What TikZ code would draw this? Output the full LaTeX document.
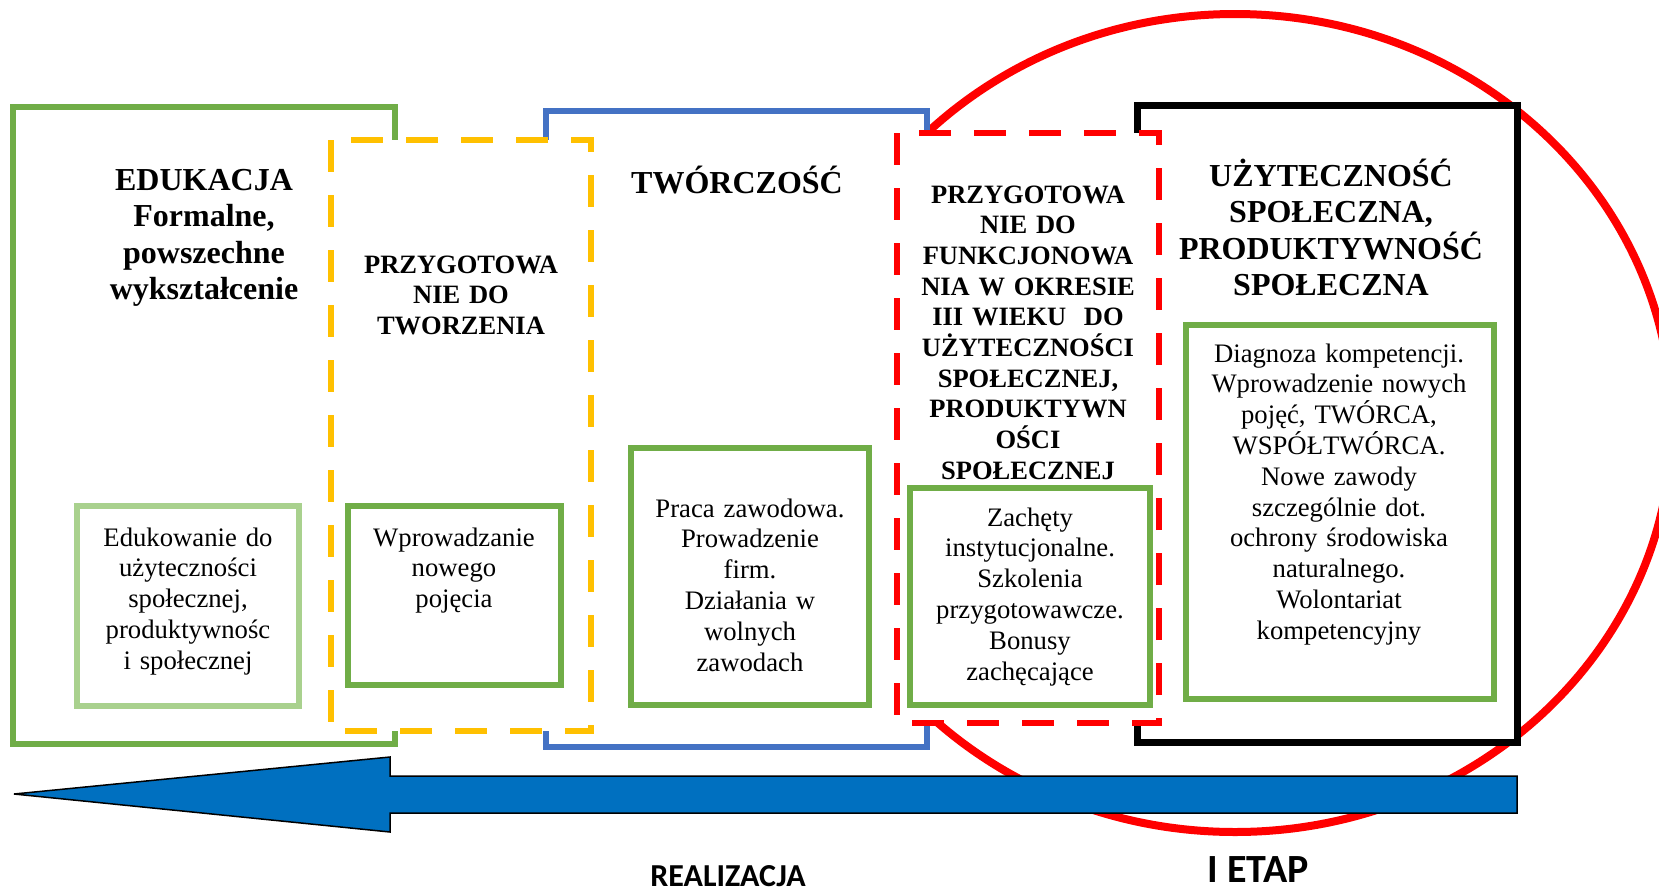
\documentclass[tikz,border=0pt]{standalone}
\usepackage{fontspec}
\setmainfont{Liberation Serif}
\newfontfamily\labelfont{Carlito}
\usetikzlibrary{calc}

\definecolor{frgreen}{HTML}{70AD47}
\definecolor{frlight}{HTML}{A9D18E}
\definecolor{fryellow}{HTML}{FFC000}
\definecolor{frblue}{HTML}{4472C4}
\definecolor{frred}{HTML}{FF0000}
\definecolor{arrowblue}{HTML}{0070C0}

\tikzset{
  framebox/.style={line width=6.5pt, fill=white},
  dashbox/.style={framebox, dash pattern=on 32pt off 23pt},
  innerbox/.style={draw=frgreen, line width=6pt, fill=white},
  headtext/.style={anchor=base, align=center, text width=320pt, inner sep=0pt,
    font=\bfseries\fontsize{32}{36.6}\selectfont},
  subhead/.style={headtext, text width=260pt, font=\bfseries\fontsize{26.5}{30.7}\selectfont},
  bodytext/.style={anchor=base, align=center, text width=320pt, inner sep=0pt,
    font=\fontsize{26.7}{30.8}\selectfont},
  steplabel/.style={anchor=base, inner sep=0pt, font=\labelfont\bfseries}
}

\begin{document}
\begin{tikzpicture}[x=1pt, y=-1pt]
\useasboundingbox (0,0) rectangle (1659,892);
% Stage ellipse behind everything
\coordinate (stage) at (1235,423);
\draw[frred, line width=8pt] (stage) ellipse [x radius=437pt, y radius=409pt];
% Outer frames, back to front
\draw[framebox, draw=frgreen] (13,107) rectangle (395,744);
\draw[framebox, draw=frblue] (546,111) rectangle (927,747);
\draw[framebox, draw=black, line width=7pt] (1137,105) rectangle (1517,742);
\draw[dashbox, draw=fryellow, line width=6pt] (331,140) rectangle (591,731);
\draw[dashbox, draw=frred] (897,133) rectangle (1159,723);
% Inner boxes
\draw[innerbox, draw=frlight, line width=6.5pt] (77,506) rectangle (299,706);
\draw[innerbox] (348,506) rectangle (561,685);
\draw[innerbox] (631,448) rectangle (869,705);
\draw[innerbox] (910,488) rectangle (1150,705);
\draw[innerbox] (1186,325) rectangle (1494,699);
% Headings
\node[headtext] (edukacja) at (204,190) {EDUKACJA\\ Formalne,\\ powszechne\\ wykształcenie};
\node[subhead] (tworzenie) at (461,273) {PRZYGOTOWA\\ NIE DO\\ TWORZENIA};
\node[headtext] (tworczosc) at (737,193) {TWÓRCZOŚĆ};
\node[subhead] (funkcja) at (1028,203) {PRZYGOTOWA\\ NIE DO\\ FUNKCJONOWA\\ NIA W OKRESIE\\ III WIEKU\ \ DO\\ UŻYTECZNOŚCI\\ SPOŁECZNEJ,\\ PRODUKTYWN\\ OŚCI\\ SPOŁECZNEJ};
\node[headtext] (uzytecznosc) at (1331,186) {UŻYTECZNOŚĆ\\ SPOŁECZNA,\\ PRODUKTYWNOŚĆ\\ SPOŁECZNA};
% Box texts
\node[bodytext] (edukowanie) at (188,546) {Edukowanie do\\ użyteczności\\ społecznej,\\ produktywnośc\\ i społecznej};
\node[bodytext] (pojecie) at (454,546) {Wprowadzanie\\ nowego\\ pojęcia};
\node[bodytext] (praca) at (750,517) {Praca zawodowa.\\ Prowadzenie\\ firm.\\ Działania w\\ wolnych\\ zawodach};
\node[bodytext] (zachety) at (1030,526) {Zachęty\\ instytucjonalne.\\ Szkolenia\\ przygotowawcze.\\ Bonusy\\ zachęcające};
\node[bodytext] (diagnoza) at (1339,362) {Diagnoza kompetencji.\\ Wprowadzenie nowych\\ pojęć, TWÓRCA,\\ WSPÓŁTWÓRCA.\\ Nowe zawody\\ szczególnie dot.\\ ochrony środowiska\\ naturalnego.\\ Wolontariat\\ kompetencyjny};
% Direction arrow
\coordinate (tip) at (14,794);
\coordinate (tail) at (1517,794);
\draw[fill=arrowblue, line width=1.5pt] (tip) -- (390,757) -- (390,776) -- (tail |- 0,776)
  -- (tail |- 0,813) -- (390,813) -- (390,832) -- cycle;
% Labels below
\node[steplabel, font=\labelfont\bfseries\fontsize{32}{36}\selectfont] (realizacja) at (728,886) {REALIZACJA};
\node[steplabel, font=\labelfont\bfseries\fontsize{40}{46}\selectfont] (etap) at (1258,882) {I ETAP};
\end{tikzpicture}
\end{document}
